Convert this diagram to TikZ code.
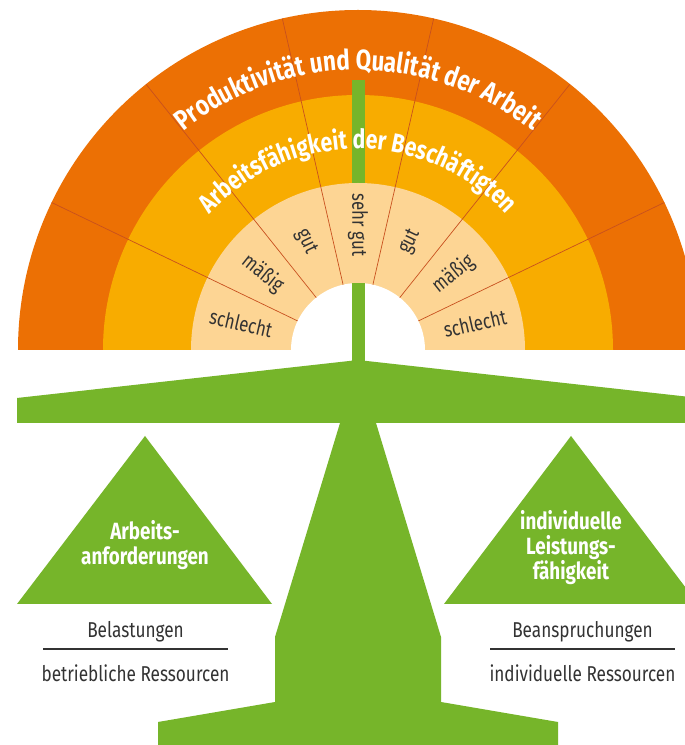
\documentclass[tikz,border=0pt]{standalone}
\usepackage{fontspec}
\setmainfont{Fira Sans}[FakeStretch=0.8]
\usepackage{tikz}
\usetikzlibrary{decorations.text}
\definecolor{outerring}{HTML}{EC7004}
\definecolor{middlering}{HTML}{F8AC00}
\definecolor{innerring}{HTML}{FDD594}
\definecolor{scalegreen}{HTML}{76B52A}
\definecolor{segred}{HTML}{C8501E}
\definecolor{labelgray}{HTML}{333333}
\tikzset{
  seg/.style={segred, line width=0.7pt},
  grade/.style={font=\fontsize{21}{21}\selectfont, text=labelgray, inner sep=0pt},
  weight/.style={font=\fontsize{23.5}{25}\selectfont\bfseries, text=white, align=center},
  factor/.style={font=\fontsize{21.5}{21.5}\selectfont, text=labelgray, inner sep=0pt},
}

\begin{document}
\begin{tikzpicture}[x=1pt, y=1pt]
            \clip (0,0) rectangle (685,745);
            \fill[white] (0,0) rectangle (685,745);
            \coordinate (c) at (358,395);

            % the three rings of the dial
            \fill[outerring] (18,395) arc[start angle=180, end angle=0, radius=340] -- cycle;
            \fill[middlering] (103,395) arc[start angle=180, end angle=0, radius=255] -- cycle;
            \fill[scalegreen] (351.5,383) rectangle (364.5,665);
            \fill[innerring] (191,395) arc[start angle=180, end angle=0, radius=167] -- cycle;
            \fill[white] (291,395) arc[start angle=180, end angle=0, radius=67] -- cycle;
            \fill[scalegreen] (351.5,383) rectangle (364.5,462);

            \draw[seg] (c) ++(25.71:67) -- ++(25.71:273);
            \draw[seg] (c) ++(51.43:67) -- ++(51.43:273);
            \draw[seg] (c) ++(77.14:67) -- ++(77.14:273);
            \draw[seg] (c) ++(102.86:67) -- ++(102.86:273);
            \draw[seg] (c) ++(128.57:67) -- ++(128.57:273);
            \draw[seg] (c) ++(154.29:67) -- ++(154.29:273);

            \node[grade, rotate=-12.86] (g1) at ([shift={(167.14:120)}]c) {schlecht};
            \node[grade, rotate=-38.57] (g2) at ([shift={(141.43:122)}]c) {mäßig};
            \node[grade, rotate=-64.29] (g3) at ([shift={(115.71:120)}]c) {gut};
            \node[grade, rotate=-90] (g4) at ([shift={(90:125)}]c) {sehr gut};
            \node[grade, rotate=64.29] (g5) at ([shift={(64.29:120)}]c) {gut};
            \node[grade, rotate=38.57] (g6) at ([shift={(38.57:122)}]c) {mäßig};
            \node[grade, rotate=12.86] (g7) at ([shift={(12.86:120)}]c) {schlecht};

            \path[decorate, decoration={text along path, text align=center,
                text={|\fontsize{28}{28}\selectfont\bfseries\color{white}|Produktivität und Qualität der Arbeit}}]
                ([shift={(160:280)}]c) arc[start angle=160, end angle=20, radius=280];
            \path[decorate, decoration={text along path, text align=center,
                text={|\fontsize{26.5}{26.5}\selectfont\bfseries\color{white}|Arbeitsfähigkeit der Beschäftigten}}]
                ([shift={(160:201)}]c) arc[start angle=160, end angle=20, radius=201];

            % beam, stand and the two weights
            \fill[scalegreen] (17,322) -- (17,347) -- (358,385) -- (699,347) -- (699,322) -- cycle;
            \fill[scalegreen] (340,322) -- (376,322) -- (441,108) -- (441,43) -- (558,23) -- (558,0)
                -- (158,0) -- (158,23) -- (275,43) -- (275,108) -- cycle;
            \fill[scalegreen] (17,141) -- (272,141) -- (145,309) -- cycle;
            \fill[scalegreen] (444,141) -- (698,141) -- (571,309) -- cycle;

            \node[weight] (demands) at (145,200) {Arbeits-\\anforderungen};
            \node[weight] (capacity) at (571,197) {individuelle\\Leistungs-\\fähigkeit};

            \node[factor] (load) at (135.5,113) {Belastungen};
            \node[factor] (orgres) at (135.5,72) {betriebliche Ressourcen};
            \draw[labelgray, line width=1.2pt] (43,96) -- (228,96);
            \node[factor] (strain) at (582.5,113) {Beanspruchungen};
            \node[factor] (indres) at (582.5,72) {individuelle Ressourcen};
            \draw[labelgray, line width=1.2pt] (490,96) -- (675,96);
        \end{tikzpicture}
\end{document}
